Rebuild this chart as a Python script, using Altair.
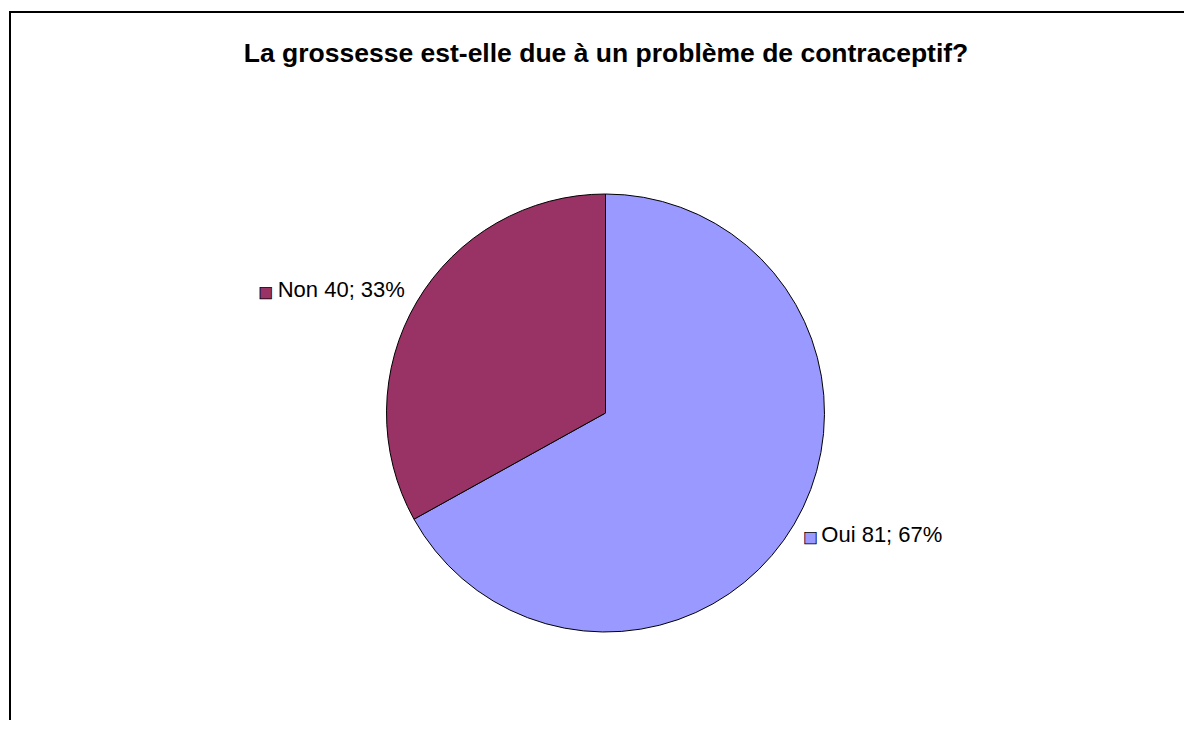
import altair as alt
import pandas as pd

title_text = "La grossesse est-elle due à un problème de contraceptif?"
categories = ["Oui", "Non"]
values = [81, 40]
colors = ["#9999FF", "#993366"]

total = sum(values)
labels = [f"{c} {v}; {round(v / total * 100)}%" for c, v in zip(categories, values)]

df = pd.DataFrame({
    "cat": categories,
    "value": values,
    "idx": list(range(len(categories))),
    "label": labels,
})

W, H = 1174, 708
CX, CY = 595.5, 401
R_PIE = 219
R_LAB = 240
FONT = "Liberation Sans"

theta_scale = alt.Scale(domain=[0, total])
color_scale = alt.Scale(domain=categories, range=colors)

base = (
    alt.Chart(df)
    .transform_stack(stack="value", as_=["v0", "v1"], groupby=[], sort=[alt.SortField("idx")])
    .transform_calculate(mid="(datum.v0 + datum.v1) / 2")
)

pie = base.mark_arc(radius=R_PIE, stroke="black", strokeWidth=1).encode(
    theta=alt.Theta("v0:Q", scale=theta_scale),
    theta2="v1:Q",
    color=alt.Color("cat:N", scale=color_scale, legend=None),
    x=alt.value(CX),
    y=alt.value(CY),
)

right = base.transform_filter(f"datum.mid <= {total} / 2")
left = base.transform_filter(f"datum.mid > {total} / 2")

def label_layer(src, dx, dy):
    return src.mark_text(
        radius=R_LAB, align="left", baseline="alphabetic", dx=dx, dy=dy,
        fontSize=22, font=FONT, color="black",
    ).encode(
        theta=alt.Theta("mid:Q", scale=theta_scale),
        text="label:N",
        x=alt.value(CX),
        y=alt.value(CY),
    )

def key_layer(src, dx, dy):
    return src.mark_text(
        text="■", radius=R_LAB, align="center", baseline="middle", dx=dx, dy=dy,
        fontSize=15, font="DejaVu Sans", stroke="black", strokeWidth=0.8,
    ).encode(
        theta=alt.Theta("mid:Q", scale=theta_scale),
        fill=alt.Fill("cat:N", scale=color_scale, legend=None),
        x=alt.value(CX),
        y=alt.value(CY),
    )

frame = alt.Chart(pd.DataFrame({"f": [0]})).mark_rect(
    fill="white", fillOpacity=0, stroke="black", strokeWidth=2
).encode(
    x=alt.value(0), y=alt.value(0), x2=alt.value(W + 30), y2=alt.value(H + 60)
)

chart = alt.layer(
    frame,
    pie,
    label_layer(right, 9, 7),
    key_layer(right, -2, 2),
    label_layer(left, -121, 6),
    key_layer(left, -133, 1),
).properties(
    width=W,
    height=H,
    padding={"left": 2, "top": 4, "right": 0, "bottom": 0},
    autosize=alt.AutoSizeParams(type="none"),
    title=alt.TitleParams(
        title_text, fontSize=26.5, font=FONT, fontWeight="bold", color="black",
        anchor="middle", frame="group", baseline="alphabetic", offset=0, dy=77, dx=9,
    ),
    background="white",
).configure_view(stroke=None)

chart.save("out.html", embed_options={"renderer": "svg", "actions": False})
